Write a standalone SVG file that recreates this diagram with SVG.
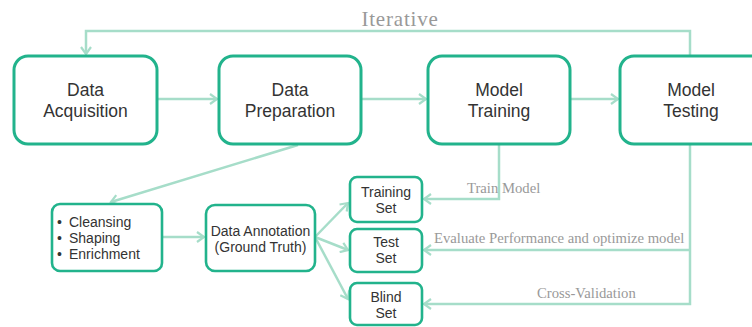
<svg xmlns="http://www.w3.org/2000/svg" width="752" height="327" viewBox="0 0 752 327">
<defs>
<style>
.box{fill:#fff;stroke:#22b38c;stroke-width:3}
.sbox{fill:#fff;stroke:#22b38c;stroke-width:2.6}
.big{font-family:"Liberation Sans",Arial,sans-serif;font-size:17.5px;fill:#333;text-anchor:middle}
.sm{font-family:"Liberation Sans",Arial,sans-serif;font-size:14px;fill:#333}
.smc{font-family:"Liberation Sans",Arial,sans-serif;font-size:14px;fill:#333;text-anchor:middle}
.lab{font-family:"Liberation Serif","Times New Roman",serif;fill:#999}
.con{fill:none;stroke:#a6ddc9;stroke-width:2.5}
</style>
<marker id="ah" markerWidth="12" markerHeight="12" refX="9" refY="6" orient="auto" markerUnits="userSpaceOnUse">
<path d="M2,1 L9,6 L2,11" fill="none" stroke="#a6ddc9" stroke-width="2.2"/>
</marker>
</defs>
<rect width="752" height="327" fill="#fff"/>
<g id="connectors">
<path class="con" d="M690,56 V31 H86 V54" marker-end="url(#ah)"/>
<path class="con" d="M157,99 H217" marker-end="url(#ah)"/>
<path class="con" d="M361,99 H426" marker-end="url(#ah)"/>
<path class="con" d="M570,99 H618" marker-end="url(#ah)"/>
<path class="con" d="M298,145 L111,202" marker-end="url(#ah)"/>
<path class="con" d="M162,237 H204" marker-end="url(#ah)"/>
<path class="con" d="M315,237 L348,203" marker-end="url(#ah)"/>
<path class="con" d="M315,237 L348,250" marker-end="url(#ah)"/>
<path class="con" d="M315,237 L348,299" marker-end="url(#ah)"/>
<path class="con" d="M499,145 V199 H424" marker-end="url(#ah)"/>
<path class="con" d="M690,145 V304 H424" marker-end="url(#ah)"/>
<path class="con" d="M690,250 H424" marker-end="url(#ah)"/>
</g>
<text class="lab" x="400" y="26" font-size="21" letter-spacing="0.8" text-anchor="middle">Iterative</text>
<text class="lab" x="467" y="193" font-size="14.7">Train Model</text>
<text class="lab" x="434" y="243" font-size="14.7">Evaluate Performance and optimize model</text>
<text class="lab" x="537" y="298" font-size="14.7">Cross-Validation</text>
<g id="data-acquisition">
<rect class="box" x="14" y="56" width="143" height="88" rx="14"/>
<text class="big" x="85.5" y="96">Data</text>
<text class="big" x="85.5" y="117">Acquisition</text>
</g>
<g id="data-preparation">
<rect class="box" x="219" y="56" width="142" height="88" rx="14"/>
<text class="big" x="290" y="96">Data</text>
<text class="big" x="290" y="117">Preparation</text>
</g>
<g id="model-training">
<rect class="box" x="428" y="56" width="142" height="88" rx="14"/>
<text class="big" x="499" y="96">Model</text>
<text class="big" x="499" y="117">Training</text>
</g>
<g id="model-testing">
<rect class="box" x="620" y="56" width="145" height="88" rx="14"/>
<text class="big" x="691" y="96">Model</text>
<text class="big" x="691" y="117">Testing</text>
</g>
<g id="preparation-steps">
<rect class="sbox" x="52" y="204" width="110" height="67" rx="8"/>
<text class="sm" x="57" y="227">•</text><text class="sm" x="69" y="227">Cleansing</text>
<text class="sm" x="57" y="243">•</text><text class="sm" x="69" y="243">Shaping</text>
<text class="sm" x="57" y="259">•</text><text class="sm" x="69" y="259">Enrichment</text>
</g>
<g id="data-annotation">
<rect class="sbox" x="206" y="205" width="109" height="66" rx="9"/>
<text class="smc" x="260.5" y="236">Data Annotation</text>
<text class="smc" x="260.5" y="252">(Ground Truth)</text>
</g>
<g id="training-set">
<rect class="sbox" x="350" y="177" width="72" height="45" rx="7"/>
<text class="smc" x="386" y="197">Training</text>
<text class="smc" x="386" y="213">Set</text>
</g>
<g id="test-set">
<rect class="sbox" x="350" y="229" width="72" height="43" rx="7"/>
<text class="smc" x="386" y="247">Test</text>
<text class="smc" x="386" y="263">Set</text>
</g>
<g id="blind-set">
<rect class="sbox" x="350" y="283" width="72" height="42" rx="7"/>
<text class="smc" x="386" y="302">Blind</text>
<text class="smc" x="386" y="318">Set</text>
</g>
</svg>
